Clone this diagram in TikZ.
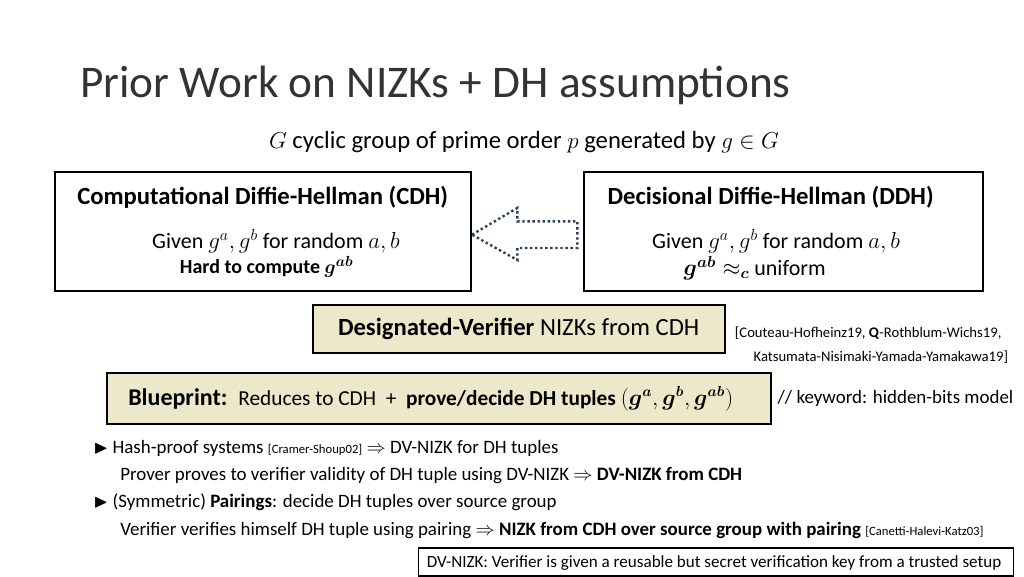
\documentclass[tikz,border=0pt]{standalone}
\usepackage{amsmath,amssymb,bm}
\usepackage{fontspec}
\setmainfont{Carlito}
\definecolor{beige}{HTML}{EEE8CA}
\definecolor{dnavy}{HTML}{2A3F5F}
\begin{document}
\begin{tikzpicture}[x=1pt,y=-1pt,
  box/.style={draw,line width=1.3pt},
  tbox/.style={draw,line width=1.3pt,fill=beige},
  txt/.style={inner sep=0pt,anchor=west,font=\fontsize{16.5}{19}\selectfont}]
\useasboundingbox (0,0) rectangle (768,432);
\node[inner sep=0pt,anchor=west,font=\fontsize{34}{38}\selectfont,text=black!80] (title) at (60,64) {Prior Work on NIZKs + DH assumptions};
\node[txt,anchor=center,font=\fontsize{18.5}{21}\selectfont] (sub) at (393,107) {$G$ cyclic group of prime order $p$ generated by $g\in G$};
% CDH
\draw[box] (41,129) rectangle (353,218);
\node[txt,anchor=center,font=\fontsize{18.5}{21}\selectfont] (cdh) at (197,148) {\textbf{Computational Diffie-Hellman (CDH)}};
\node[txt,anchor=center] (cdh1) at (207,181) {Given $g^a,g^b$ for random $a,b$};
\node[txt,anchor=center,font=\fontsize{15}{18}\selectfont] (cdh2) at (200,200) {\textbf{Hard to compute $\bm{g^{ab}}$}};
% DDH
\draw[box] (438,129) rectangle (737,218);
\node[txt,anchor=center,font=\fontsize{18.5}{21}\selectfont] (ddh) at (578,148) {\textbf{Decisional Diffie-Hellman (DDH)}};
\node[txt,anchor=center] (ddh1) at (582,181) {Given $g^a,g^b$ for random $a,b$};
\node[txt,anchor=center] (ddh2) at (566,201) {$\bm{g^{ab}}\approx_{\bm{c}}$ uniform};
% arrow
\draw[dnavy,line width=1.8pt,dotted] (354,176) -- (388,156) -- (388,166) -- (433,166) -- (433,186) -- (388,186) -- (388,195) -- cycle;
% DV
\draw[tbox] (235,229) rectangle (544,265);
\node[txt,anchor=center,font=\fontsize{18.5}{21}\selectfont] (dv) at (389,247) {\textbf{Designated-Verifier} NIZKs from CDH};
\node[txt,font=\fontsize{11}{13}\selectfont] (ref1) at (551,250) {[Couteau-Hofheinz19, \textbf{Q}-Rothblum-Wichs19,};
\node[txt,font=\fontsize{11}{13}\selectfont] (ref2) at (565,268) {Katsumata-Nisimaki-Yamada-Yamakawa19]};
% blueprint
\draw[tbox] (80,280) rectangle (578,318);
\node[txt] (bp) at (96,299) {\fontsize{18}{21}\selectfont\textbf{Blueprint:}\ \ \fontsize{16}{19}\selectfont Reduces to CDH \ + \ \textbf{prove/decide DH tuples} $(\bm{g^a},\bm{g^b},\bm{g^{ab}})$};
\node[txt,font=\fontsize{14.2}{17}\selectfont] (kw) at (583,299) {// keyword: hidden-bits model};
% bullets
\node[txt,font=\fontsize{14.2}{17}\selectfont] (b1) at (70,336) {$\blacktriangleright$ Hash-proof systems {\fontsize{9.5}{11}\selectfont [Cramer-Shoup02]} $\Rightarrow$ DV-NIZK for DH tuples};
\node[txt,font=\fontsize{14.2}{17}\selectfont] (b1a) at (90,357) {Prover proves to verifier validity of DH tuple using DV-NIZK $\Rightarrow$ \textbf{DV-NIZK from CDH}};
\node[txt,font=\fontsize{14.2}{17}\selectfont] (b2) at (70,377) {$\blacktriangleright$ (Symmetric) \textbf{Pairings}: decide DH tuples over source group};
\node[txt,font=\fontsize{14.2}{17}\selectfont] (b2a) at (90,398) {Verifier verifies himself DH tuple using pairing $\Rightarrow$ \textbf{NIZK from CDH over source group with pairing} {\fontsize{9.5}{11}\selectfont [Canetti-Halevi-Katz03]}};
\draw[line width=0.8pt] (314,411) rectangle (760,432);
\node[txt,font=\fontsize{12.8}{15}\selectfont] (note) at (320,422) {DV-NIZK: Verifier is given a reusable but secret verification key from a trusted setup};
\end{tikzpicture}
\end{document}
